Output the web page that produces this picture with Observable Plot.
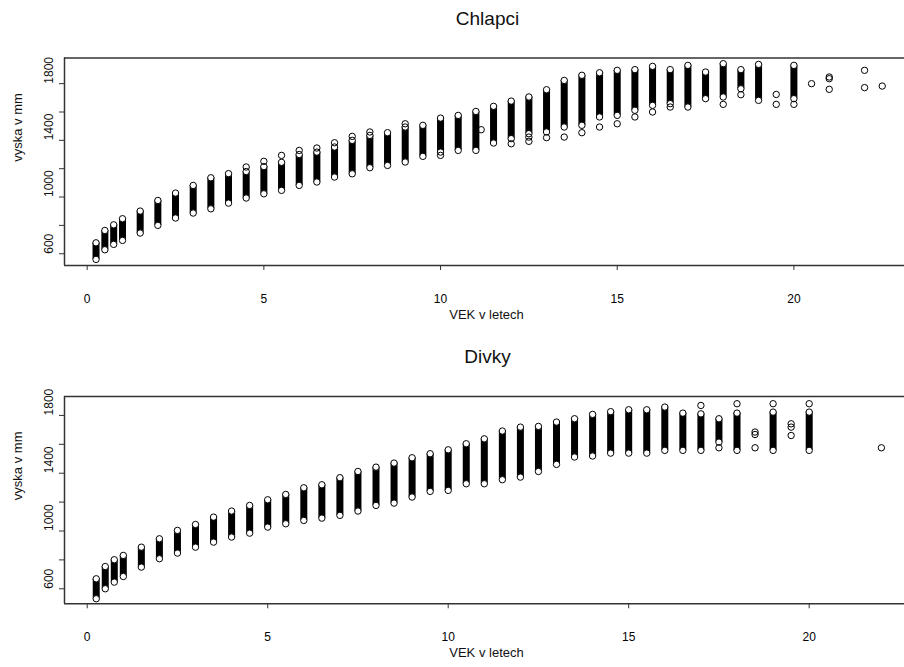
<!DOCTYPE html>
<html>
<head>
<meta charset="utf-8">
<script src="https://cdn.jsdelivr.net/npm/d3@7"></script>
<script src="https://cdn.jsdelivr.net/npm/@observablehq/plot@0.6"></script>
<style>
  html, body { margin: 0; padding: 0; background: white; }
  svg { display: block; }
</style>
</head>
<body>
<div id="chart"></div>
<script>
// ---- Chlapci (boys) ----
const boysAge = [0.25, 0.5, 0.75, 1, 1.5, 2, 2.5, 3, 3.5, 4, 4.5, 5, 5.5, 6, 6.5, 7, 7.5, 8, 8.5, 9, 9.5, 10, 10.5, 11, 11.5, 12, 12.5, 13, 13.5, 14, 14.5, 15, 15.5, 16, 16.5, 17, 17.5, 18, 18.5, 19, 20];
const boysLo  = [560, 628, 666, 694, 746, 800, 852, 887, 917, 957, 993, 1023, 1047, 1082, 1106, 1141, 1164, 1207, 1223, 1247, 1287, 1317, 1329, 1329, 1381, 1412, 1447, 1459, 1494, 1506, 1565, 1576, 1612, 1647, 1659, 1635, 1694, 1706, 1764, 1682, 1694];
const boysHi  = [677, 764, 804, 847, 901, 976, 1028, 1082, 1136, 1165, 1180, 1215, 1245, 1300, 1317, 1353, 1400, 1435, 1454, 1494, 1506, 1557, 1576, 1604, 1640, 1677, 1706, 1757, 1823, 1859, 1877, 1894, 1899, 1922, 1899, 1929, 1882, 1941, 1899, 1936, 1929];
const boysExtraAge = [4.5, 5, 5.5, 6, 6.5, 7, 7.5, 8, 9, 10, 11.15, 12, 12.5, 12.5, 13, 13.5, 14, 14.5, 15, 15.5, 16, 16.5, 18, 18.5, 19.5, 19.5, 20, 20.5, 21, 21, 21, 22, 22, 22.5];
const boysExtraVal = [1212, 1252, 1294, 1329, 1346, 1383, 1428, 1459, 1517, 1294, 1475, 1376, 1423, 1393, 1419, 1423, 1454, 1494, 1517, 1565, 1600, 1635, 1654, 1722, 1724, 1654, 1654, 1800, 1847, 1835, 1760, 1894, 1772, 1783];

// ---- Divky (girls) ----
const girlsAge = [0.25, 0.5, 0.75, 1, 1.5, 2, 2.5, 3, 3.5, 4, 4.5, 5, 5.5, 6, 6.5, 7, 7.5, 8, 8.5, 9, 9.5, 10, 10.5, 11, 11.5, 12, 12.5, 13, 13.5, 14, 14.5, 15, 15.5, 16, 16.5, 17, 17.5, 18, 19, 20];
const girlsLo  = [531, 600, 646, 685, 750, 808, 847, 888, 923, 958, 985, 1027, 1050, 1073, 1089, 1108, 1138, 1177, 1193, 1235, 1274, 1281, 1327, 1327, 1355, 1373, 1412, 1461, 1512, 1519, 1539, 1539, 1539, 1558, 1558, 1558, 1615, 1558, 1558, 1558];
const girlsHi  = [669, 754, 801, 831, 888, 946, 1004, 1045, 1096, 1138, 1177, 1216, 1253, 1299, 1320, 1369, 1412, 1442, 1470, 1507, 1535, 1562, 1604, 1638, 1692, 1719, 1724, 1754, 1777, 1807, 1826, 1839, 1839, 1858, 1816, 1811, 1777, 1816, 1823, 1823];
const girlsExtraAge = [17, 17.5, 18, 18.5, 18.5, 18.5, 19, 19.5, 19.5, 19.5, 20, 22];
const girlsExtraVal = [1869, 1576, 1881, 1685, 1668, 1576, 1881, 1742, 1719, 1661, 1881, 1576];

// ---- axes ----
const xTicks = [0, 5, 10, 15, 20];
const yTicks = [600, 800, 1000, 1200, 1400, 1600, 1800];
const yLabels = [600, 1000, 1400, 1800];
const boysXDomain = [-0.642, 23.13];
const boysYDomain = [517, 1981];
const girlsXDomain = [-0.629, 22.64];
const girlsYDomain = [496, 1931];

const font = "'Liberation Sans', Arial, Helvetica, sans-serif";

function panel({title, ages, lo, hi, exAge, exVal, xDomain, yDomain, height, marginTop, marginBottom}) {
  const cols = ages.map((a, i) => ({age: a, lo: lo[i], hi: hi[i]}));
  const ends = cols.flatMap(c => [{age: c.age, v: c.lo}, {age: c.age, v: c.hi}]);
  const extras = exAge.map((a, i) => ({age: a, v: exVal[i]}));
  return Plot.plot({
    width: 904,
    height,
    marginLeft: 64,
    marginRight: 0,
    marginTop,
    marginBottom,
    x: {domain: xDomain},
    y: {domain: yDomain},
    style: {fontFamily: font, background: "white", color: "black"},
    marks: [
      Plot.ruleY(yDomain, {stroke: "#333", strokeWidth: 1.5}),
      Plot.ruleX([xDomain[0]], {stroke: "#333", strokeWidth: 1.5}),
      Plot.axisX({ticks: xTicks, tickSize: 5, tickPadding: 24, label: null, fontSize: 12, stroke: "#333"}),
      Plot.axisY({ticks: yTicks, tickSize: 5, tickFormat: () => "", label: null, stroke: "#333"}),
      Plot.text(yLabels, {y: d => d, text: d => String(d), frameAnchor: "left", dx: -15.7, rotate: -90, lineAnchor: "middle", fontSize: 12, fill: "#111"}),
      Plot.ruleX(cols, {x: "age", y1: "lo", y2: "hi", stroke: "black", strokeWidth: 7}),
      Plot.dot(ends, {x: "age", y: "v", r: 3.2, fill: "white", stroke: "black", strokeWidth: 1}),
      Plot.dot(extras, {x: "age", y: "v", r: 3.2, fill: "none", stroke: "black", strokeWidth: 1}),
      Plot.text([title], {text: d => d, frameAnchor: "top", lineAnchor: "middle", dy: -39.5, dx: 3, fontSize: 19, fill: "#111"}),
      Plot.text(["VEK v letech"], {text: d => d, frameAnchor: "bottom", lineAnchor: "middle", dy: 49.3, dx: 2, fontSize: 13, fill: "#111"}),
      Plot.text(["vyska v mm"], {text: d => d, frameAnchor: "left", lineAnchor: "middle", dx: -47, rotate: -90, fontSize: 13, fill: "#111"})
    ]
  });
}

const root = document.getElementById("chart");
root.appendChild(panel({
  title: "Chlapci", ages: boysAge, lo: boysLo, hi: boysHi, exAge: boysExtraAge, exVal: boysExtraVal,
  xDomain: boysXDomain, yDomain: boysYDomain, height: 333, marginTop: 57.5, marginBottom: 68
}));
root.appendChild(panel({
  title: "Divky", ages: girlsAge, lo: girlsLo, hi: girlsHi, exAge: girlsExtraAge, exVal: girlsExtraVal,
  xDomain: girlsXDomain, yDomain: girlsYDomain, height: 334, marginTop: 63, marginBottom: 63.7
}));
</script>
</body>
</html>
